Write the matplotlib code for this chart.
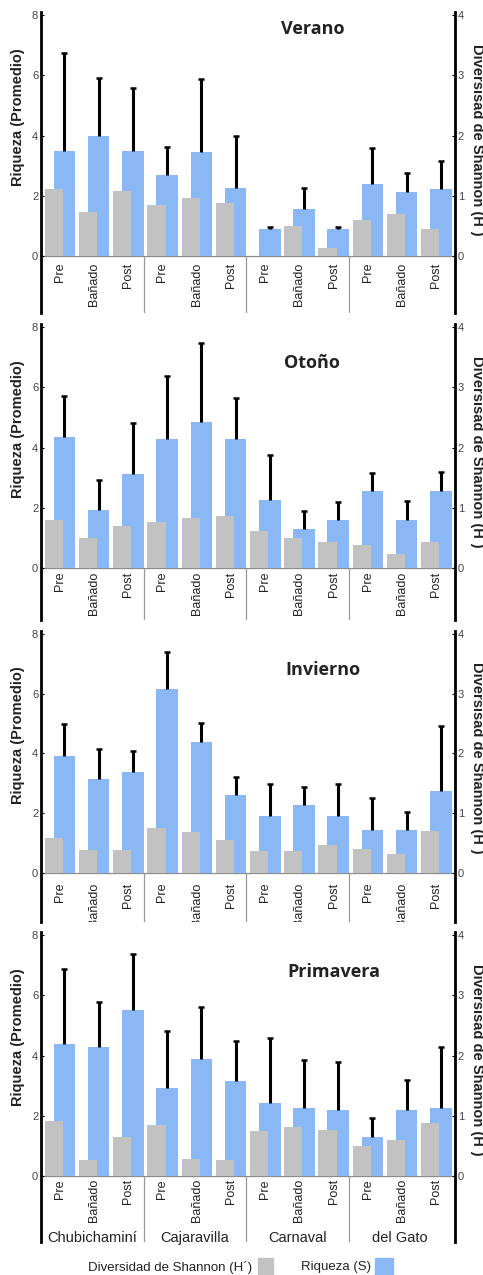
import matplotlib.pyplot as plt
import matplotlib.transforms as mtransforms
from matplotlib.patches import Rectangle
import numpy as np

plt.rcParams['font.family'] = ['Liberation Sans', 'DejaVu Sans']

# data
estaciones = ["Verano", "Otoño", "Invierno", "Primavera"]
sitios = ["Chubichaminí", "Cajaravilla", "Carnaval", "del Gato"]
momentos = ["Pre", "Bañado", "Post"]

# Riqueza (S), promedio y desvio (solo barra superior)
riq_verano = [3.5, 4.0, 3.5, 2.68, 3.44, 2.27, 0.91, 1.57, 0.91, 2.38, 2.12, 2.21]
sd_verano = [3.25, 1.92, 2.09, 0.95, 2.44, 1.71, 0.05, 0.69, 0.04, 1.2, 0.65, 0.96]
riq_otono = [4.36, 1.92, 3.11, 4.27, 4.84, 4.27, 2.25, 1.28, 1.61, 2.57, 1.61, 2.57]
sd_otono = [1.37, 0.99, 1.7, 2.1, 2.65, 1.39, 1.5, 0.61, 0.59, 0.6, 0.62, 0.63]
riq_invierno = [3.9, 3.14, 3.39, 6.16, 4.37, 2.6, 1.89, 2.27, 1.89, 1.43, 1.43, 2.75]
sd_invierno = [1.08, 1.02, 0.68, 1.23, 0.64, 0.61, 1.08, 0.6, 1.07, 1.07, 0.61, 2.15]
riq_primavera = [4.37, 4.29, 5.52, 2.94, 3.88, 3.16, 2.43, 2.27, 2.18, 1.28, 2.18, 2.27]
sd_primavera = [2.51, 1.48, 1.87, 1.87, 1.74, 1.34, 2.14, 1.59, 1.6, 0.66, 1.02, 2.03]

# Diversidad de Shannon (H')
h_verano = [1.11, 0.73, 1.08, 0.84, 0.97, 0.88, 0.0, 0.5, 0.13, 0.59, 0.70, 0.45]
h_otono = [0.79, 0.5, 0.70, 0.77, 0.83, 0.87, 0.61, 0.5, 0.43, 0.38, 0.24, 0.44]
h_invierno = [0.58, 0.38, 0.39, 0.75, 0.69, 0.56, 0.37, 0.36, 0.46, 0.40, 0.31, 0.70]
h_primavera = [0.91, 0.26, 0.65, 0.84, 0.29, 0.26, 0.75, 0.82, 0.77, 0.5, 0.6, 0.88]

riqueza = [riq_verano, riq_otono, riq_invierno, riq_primavera]
desvio = [sd_verano, sd_otono, sd_invierno, sd_primavera]
shannon = [h_verano, h_otono, h_invierno, h_primavera]

GRIS = '#c2c2c2'
AZUL = '#8ab8f4'

W, H = 483, 1275
fig = plt.figure(figsize=(W / 100, H / 100), dpi=100)

# layout of each panel (pixels)
zeros = [256, 568, 873, 1176]
ppus = [30.1, 30.1, 29.9, 30.1]
bots = [-1.89, -1.73, -1.64, -2.19]
lab_tops = [-0.23, -0.13, -0.33, -0.1]
tit_pos = [(7.9, 7.54), (7.86, 6.8), (8.2, 6.8), (8.5, 6.78)]
top = 8.1
x_left, x_right = 41, 455

n = len(momentos) * len(sitios)
cats = np.arange(n)

for k in range(4):
    zero, ppu, bot = zeros[k], ppus[k], bots[k]
    bpx = zero - bot * ppu
    tpx = zero - top * ppu
    ax = fig.add_axes([x_left / W, 1 - bpx / H, (x_right - x_left) / W, (bpx - tpx) / H])
    ax.set_facecolor('none')
    ax.set_xlim(-0.05, 12.05)
    ax.set_ylim(bot, top)

    r = np.array(riqueza[k])
    sd = np.array(desvio[k])
    ax.bar(cats + 0.32, r, width=0.63, align='edge', color=AZUL, zorder=2)
    ax.vlines(cats + 0.635, r, r + sd, color='black', lw=2.2, zorder=3)
    ax.plot(cats + 0.635, r + sd, ls='none', marker='_', ms=5, mew=1.8, color='black', zorder=3)

    ax.axhline(0, color='#8c8c8c', lw=0.9, zorder=1)
    ax.vlines([2.95, 5.95, 8.95], bot, 0, color='#9a9a9a', lw=0.9)

    for i in cats:
        ax.text(i + 0.5, lab_tops[k], momentos[i % 3], rotation=90, ha='center', va='top',
                fontsize=9, color='#222222', clip_on=True)

    ax.set_xticks([])
    ax.set_yticks([0, 2, 4, 6, 8])
    ax.tick_params(axis='y', direction='in', length=2, labelsize=8, labelcolor='#444444', pad=2)
    for s in ['top', 'bottom', 'right']:
        ax.spines[s].set_visible(False)
    ax.spines['left'].set_linewidth(2)
    ax.spines['left'].set_bounds(bot, top)

    tr = mtransforms.blended_transform_factory(fig.transFigure, ax.transData)
    ax.text(18 / W, 4.6, "Riqueza (Promedio)", transform=tr, rotation=90, ha='center',
            va='center', fontsize=10.5, fontweight='bold', color='#222222')
    ax.text(477 / W, 3.85, "Diversisad de Shannon (H´)", transform=tr, rotation=-90,
            ha='center', va='center', fontsize=10.5, fontweight='bold', color='#222222')

    ax.text(tit_pos[k][0], tit_pos[k][1], estaciones[k], ha='center', va='center',
            fontsize=13, fontweight='bold', family='Open Sans', color='#222222')

    ax2 = ax.twinx()
    ax2.set_ylim(bot / 2, top / 2)
    ax2.bar(cats + 0.06, shannon[k], width=0.53, align='edge', color=GRIS, zorder=2)
    ax2.set_yticks([0, 1, 2, 3, 4])
    ax2.tick_params(axis='y', direction='in', length=2, labelsize=8, labelcolor='#444444', pad=2)
    for s in ['top', 'bottom', 'left']:
        ax2.spines[s].set_visible(False)
    ax2.spines['right'].set_linewidth(2)

    if k == 3:
        for g, nombre in enumerate(sitios):
            ax.text(g * 3 + 1.45, -2.07, nombre, ha='center', va='center',
                    fontsize=10.5, color='#222222')

# leyenda
fig.text(252 / W, 1 - 1267 / H, "Diversidad de Shannon (H´)", ha='right', va='center',
         fontsize=9.5, color='#222222')
fig.patches.append(Rectangle((258 / W, 1 - 1276 / H), 15 / W, 18 / H,
                             transform=fig.transFigure, color=GRIS))
fig.text(371 / W, 1 - 1267 / H, "Riqueza (S)", ha='right', va='center',
         fontsize=9.5, color='#222222')
fig.patches.append(Rectangle((375 / W, 1 - 1276 / H), 18 / W, 18 / H,
                             transform=fig.transFigure, color=AZUL))

fig.savefig("out.png", dpi=100)
